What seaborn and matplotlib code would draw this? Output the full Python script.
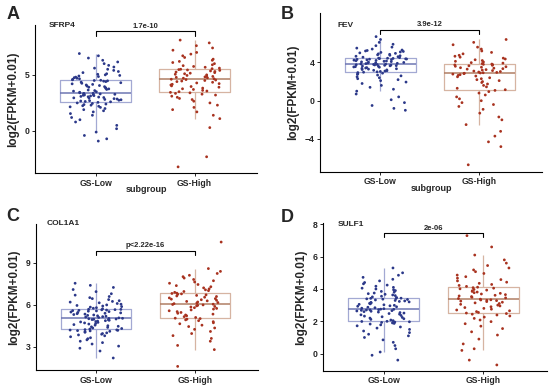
import numpy as np
import pandas as pd
import matplotlib
matplotlib.use("Agg")
import matplotlib.pyplot as plt
import seaborn as sns

groups = ["GS-Low", "GS-High"]
genes = ["SFRP4", "FEV", "COL1A1", "SULF1"]
letters = ["A", "B", "C", "D"]
pvalues = ["1.7e-10", "3.9e-12", "p<2.22e-16", "2e-06"]
yticks = [[0, 5], [-4, 0, 4], [3, 6, 9], [0, 2, 4, 6, 8]]

# values (approximate, quartile by quartile)
sfrp4_low = [-0.9, -0.7, -0.4, -0.1, 0.2, 0.5, 0.8, 1.0, 1.2, 1.4, 1.55, 1.7, 1.8, 1.9, 2.0, 2.1, 2.15, 2.2, 2.25, 2.3, 2.35, 2.4, 2.45, 2.5, 2.55,
             2.6, 2.63, 2.67, 2.7, 2.74, 2.78, 2.81, 2.85, 2.88, 2.92, 2.95, 2.98, 3.02, 3.05, 3.08, 3.12, 3.15, 3.18, 3.21, 3.24, 3.27, 3.3, 3.32, 3.34, 3.36,
             3.4, 3.45, 3.5, 3.55, 3.6, 3.65, 3.7, 3.75, 3.8, 3.85, 3.9, 3.95, 4.0, 4.05, 4.1, 4.15, 4.2, 4.25, 4.3, 4.35, 4.4, 4.44, 4.47, 4.5, 4.52,
             4.56, 4.6, 4.65, 4.7, 4.75, 4.8, 4.85, 4.9, 4.95, 5.0, 5.05, 5.1, 5.2, 5.3, 5.4, 5.5, 5.6, 5.7, 5.85, 6.0, 6.15, 6.3, 6.5, 6.7, 6.9]
sfrp4_high = [-3.2, -2.3, 0.3, 1.1, 1.4, 1.7, 1.9, 2.1, 2.3, 2.5, 2.65, 2.8, 2.9, 3.0, 3.1, 3.2, 3.28, 3.35, 3.4, 3.44,
              3.5, 3.56, 3.62, 3.7, 3.76, 3.82, 3.9, 3.96, 4.02, 4.1, 4.16, 4.22, 4.28, 4.34, 4.4, 4.45, 4.5, 4.54, 4.58, 4.61,
              4.65, 4.7, 4.74, 4.78, 4.82, 4.86, 4.9, 4.95, 5.0, 5.05, 5.1, 5.15, 5.2, 5.25, 5.3, 5.35, 5.4, 5.44, 5.47, 5.5,
              5.55, 5.6, 5.68, 5.75, 5.82, 5.9, 6.0, 6.1, 6.2, 6.3, 6.4, 6.55, 6.7, 6.85, 7.0, 7.2, 7.4, 7.6, 7.85, 8.1]
fev_low = [-1.0, -0.8, -0.5, -0.2, 0.1, 0.4, 0.7, 1.0, 1.2, 1.4, 1.6, 1.8, 1.95, 2.1, 2.2, 2.3, 2.4, 2.5, 2.6, 2.68, 2.75, 2.82, 2.88, 2.94, 2.98,
           3.02, 3.06, 3.1, 3.14, 3.18, 3.22, 3.26, 3.3, 3.34, 3.38, 3.42, 3.46, 3.5, 3.53, 3.56, 3.59, 3.62, 3.65, 3.67, 3.7, 3.72, 3.74, 3.76, 3.78, 3.79,
           3.82, 3.85, 3.88, 3.91, 3.94, 3.97, 4.0, 4.03, 4.06, 4.09, 4.12, 4.15, 4.18, 4.21, 4.24, 4.27, 4.3, 4.32, 4.34, 4.36, 4.38, 4.4, 4.42, 4.44, 4.45,
           4.5, 4.55, 4.6, 4.65, 4.7, 4.75, 4.8, 4.85, 4.9, 4.95, 5.0, 5.05, 5.1, 5.15, 5.2, 5.25, 5.3, 5.4, 5.5, 5.6, 5.75, 5.9, 6.1, 6.4, 6.7]
fev_high = [-6.7, -4.8, -4.3, -3.7, -3.2, -2.5, -2.0, -1.7, -1.3, -0.9, -0.6, -0.4, -0.2, 0.0, 0.2, 0.4, 0.6, 0.8, 0.95, 1.08,
            1.15, 1.3, 1.45, 1.6, 1.75, 1.9, 2.0, 2.1, 2.2, 2.3, 2.4, 2.5, 2.58, 2.65, 2.72, 2.78, 2.83, 2.87, 2.9, 2.92,
            2.96, 3.0, 3.05, 3.1, 3.15, 3.2, 3.25, 3.3, 3.35, 3.4, 3.45, 3.5, 3.55, 3.6, 3.65, 3.7, 3.74, 3.77, 3.8, 3.83,
            3.88, 3.93, 3.98, 4.05, 4.12, 4.2, 4.28, 4.36, 4.45, 4.55, 4.65, 4.75, 4.9, 5.05, 5.2, 5.4, 5.6, 5.85, 6.1, 6.4]
col1a1_low = [2.2, 2.7, 2.9, 3.05, 3.2, 3.3, 3.4, 3.5, 3.58, 3.65, 3.72, 3.79, 3.85, 3.9, 3.95, 4.0, 4.04, 4.08, 4.11, 4.14, 4.16, 4.18, 4.2, 4.21, 4.23,
              4.27, 4.31, 4.35, 4.39, 4.43, 4.47, 4.51, 4.55, 4.59, 4.63, 4.67, 4.71, 4.75, 4.78, 4.81, 4.84, 4.87, 4.9, 4.93, 4.95, 4.97, 4.99, 5.01, 5.03, 5.04,
              5.07, 5.1, 5.13, 5.16, 5.19, 5.22, 5.25, 5.28, 5.31, 5.34, 5.37, 5.4, 5.43, 5.46, 5.49, 5.52, 5.55, 5.57, 5.59, 5.61, 5.63, 5.65, 5.66, 5.68, 5.69,
              5.72, 5.76, 5.8, 5.84, 5.88, 5.92, 5.96, 6.0, 6.05, 6.1, 6.15, 6.2, 6.25, 6.3, 6.38, 6.45, 6.52, 6.6, 6.7, 6.8, 6.95, 7.1, 7.25, 7.4, 7.55]
col1a1_high = [1.6, 2.8, 3.1, 3.4, 3.6, 3.8, 3.95, 4.1, 4.25, 4.35, 4.45, 4.55, 4.65, 4.72, 4.8, 4.87, 4.93, 4.98, 5.02, 5.05,
               5.1, 5.16, 5.22, 5.28, 5.34, 5.4, 5.46, 5.52, 5.58, 5.64, 5.7, 5.75, 5.8, 5.85, 5.89, 5.93, 5.97, 6.0, 6.03, 6.05,
               6.09, 6.13, 6.17, 6.21, 6.25, 6.29, 6.33, 6.37, 6.41, 6.45, 6.5, 6.55, 6.6, 6.64, 6.68, 6.72, 6.76, 6.79, 6.82, 6.84,
               6.9, 6.96, 7.02, 7.08, 7.15, 7.22, 7.3, 7.38, 7.46, 7.55, 7.64, 7.73, 7.82, 7.92, 8.02, 8.12, 8.25, 8.4, 8.6, 10.5]
sulf1_low = [-0.4, -0.1, 0.1, 0.3, 0.5, 0.7, 0.85, 1.0, 1.1, 1.2, 1.3, 1.4, 1.5, 1.58, 1.65, 1.72, 1.78, 1.83, 1.87, 1.9, 1.93, 1.95, 1.97, 1.99, 2.0,
             2.04, 2.08, 2.12, 2.16, 2.2, 2.24, 2.28, 2.32, 2.36, 2.4, 2.44, 2.48, 2.51, 2.54, 2.57, 2.6, 2.62, 2.64, 2.66, 2.68, 2.7, 2.71, 2.72, 2.74, 2.75,
             2.78, 2.81, 2.84, 2.87, 2.9, 2.93, 2.96, 2.99, 3.02, 3.05, 3.08, 3.11, 3.14, 3.17, 3.2, 3.23, 3.26, 3.29, 3.32, 3.35, 3.37, 3.39, 3.41, 3.42, 3.43,
             3.47, 3.51, 3.55, 3.59, 3.63, 3.67, 3.71, 3.75, 3.8, 3.85, 3.9, 3.95, 4.0, 4.05, 4.1, 4.17, 4.24, 4.32, 4.4, 4.5, 4.6, 4.72, 4.85, 5.0, 5.3]
sulf1_high = [-0.7, -0.4, 0.2, 0.3, 0.6, 0.9, 1.15, 1.35, 1.55, 1.7, 1.85, 1.98, 2.08, 2.18, 2.26, 2.33, 2.39, 2.44, 2.48, 2.51,
              2.55, 2.6, 2.65, 2.7, 2.75, 2.8, 2.85, 2.9, 2.95, 3.0, 3.05, 3.1, 3.14, 3.18, 3.22, 3.25, 3.28, 3.3, 3.32, 3.33,
              3.37, 3.41, 3.45, 3.49, 3.53, 3.57, 3.61, 3.65, 3.69, 3.73, 3.77, 3.81, 3.85, 3.89, 3.93, 3.97, 4.01, 4.05, 4.08, 4.11,
              4.16, 4.22, 4.28, 4.35, 4.42, 4.5, 4.58, 4.67, 4.76, 4.86, 4.96, 5.07, 5.18, 5.3, 5.45, 5.6, 5.8, 6.1, 6.6, 7.3]

data = {"SFRP4": (sfrp4_low, sfrp4_high), "FEV": (fev_low, fev_high),
        "COL1A1": (col1a1_low, col1a1_high), "SULF1": (sulf1_low, sulf1_high)}

sns.set_style("ticks")
plt.rcParams["font.family"] = ["Liberation Sans", "DejaVu Sans"]
plt.rcParams["font.weight"] = "bold"
np.random.seed(3)

box_col = {"GS-Low": "#a3a9d3", "GS-High": "#d6b4a2"}
med_col = {"GS-Low": "#6e76b3", "GS-High": "#b07e64"}
pt_pal = {"GS-Low": "#2b3889", "GS-High": "#a8321f"}

fig = plt.figure(figsize=(5.5, 3.88), dpi=100)
rects = [[0.064, 0.554, 0.404, 0.382], [0.582, 0.557, 0.404, 0.409],
         [0.065, 0.046, 0.404, 0.377], [0.587, 0.044, 0.407, 0.382]]
ylims = [(-3.75, 9.46), (-7.44, 9.15), (1.33, 11.8), (-1.07, 8.1)]
gene_pos = [(0.06, 0.995), (0.077, 0.925), (0.05, 1.0), (0.067, 0.985)]
letter_pos = [(0.024, 0.962), (0.522, 0.962), (0.024, 0.443), (0.522, 0.44)]
bracket_y = [8.87, 7.44, 9.85, 7.45]

for i, g in enumerate(genes):
    low, high = data[g]
    df = pd.DataFrame({"group": ["GS-Low"] * len(low) + ["GS-High"] * len(high),
                       "value": low + high})
    ax = fig.add_axes(rects[i])
    for grp in groups:
        sub = df[df["group"] == grp]
        sns.boxplot(data=sub, x="group", y="value", order=groups, color=box_col[grp],
                    fill=False, width=0.71, linewidth=0.9, showfliers=False, showcaps=False,
                    medianprops={"color": med_col[grp], "linewidth": 1.1}, ax=ax)
    sns.stripplot(data=df, x="group", y="value", hue="group", order=groups, palette=pt_pal,
                  size=2.0, jitter=0.27, linewidth=0, legend=False, ax=ax)
    ax.set_xlim(-0.61, 1.635)
    ax.set_ylim(*ylims[i])
    ax.set_yticks(yticks[i])
    sns.despine(ax=ax)
    for s in ["left", "bottom"]:
        ax.spines[s].set_linewidth(0.8)
        ax.spines[s].set_color("black")
    ax.tick_params(axis="both", labelsize=6.2, length=2.5, width=0.7, pad=1.5)
    for lab in ax.get_xticklabels() + ax.get_yticklabels():
        lab.set_fontweight("bold")
    ax.set_ylabel("log2(FPKM+0.01)", fontsize=8.5, fontweight="bold", labelpad=4)
    if i < 2:
        ax.set_xlabel("subgroup", fontsize=6.5, fontweight="bold", labelpad=-2)
    else:
        ax.set_xlabel("")
    # significance bracket
    yb = bracket_y[i]
    leg = (ylims[i][1] - ylims[i][0]) * 0.028
    ax.plot([0, 0, 1, 1], [yb - leg, yb, yb, yb - leg], color="black", lw=0.8, clip_on=False)
    ax.text(0.5, yb + leg * 0.4, pvalues[i], ha="center", va="bottom", fontsize=5.5, fontweight="bold")
    ax.text(gene_pos[i][0], gene_pos[i][1], g, transform=ax.transAxes, ha="left", va="center",
            fontsize=6, fontweight="bold")
    fig.text(letter_pos[i][0], letter_pos[i][1], letters[i], ha="center", va="center",
             fontsize=13, fontweight="bold")

fig.savefig("out.png", dpi=100)
